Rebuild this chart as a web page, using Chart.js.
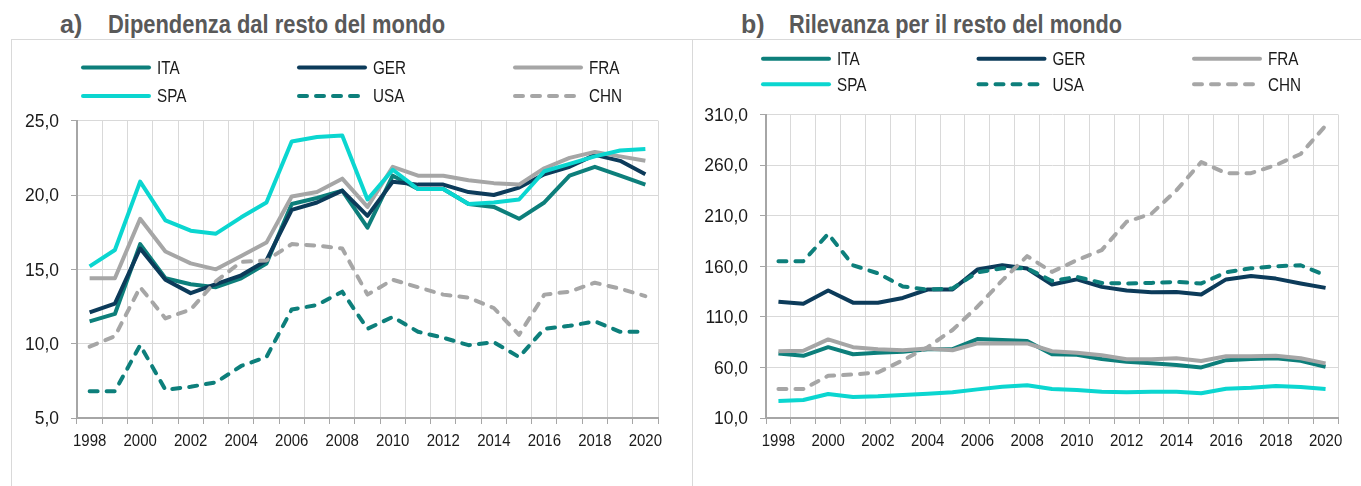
<!DOCTYPE html>
<html>
<head>
<meta charset="utf-8">
<script src="https://cdn.jsdelivr.net/npm/chart.js@4.4.1/dist/chart.umd.min.js"></script>
<style>
  html, body { margin:0; padding:0; background:#fff; }
  body { width:1361px; height:486px; position:relative; overflow:hidden; font-family:'Liberation Sans',Arial,sans-serif; }
  .title { position:absolute; top:12px; font-weight:bold; font-size:25px; line-height:25px; color:#595959; white-space:nowrap; transform-origin:0 0; }
  .panel { position:absolute; top:39px; height:460px; border-top:1px solid #d9d9d9; border-left:1px solid #d9d9d9; }
  canvas { position:absolute; }
</style>
</head>
<body>
<div class="title" style="left:60px" data-w="20">a)</div>
<div class="title" style="left:108px" data-w="337">Dipendenza dal resto del mondo</div>
<div class="title" style="left:741px" data-w="20">b)</div>
<div class="title" style="left:789px" data-w="333">Rilevanza per il resto del mondo</div>
<div class="panel" style="left:11px;width:680px"></div>
<div class="panel" style="left:692px;width:680px"></div>
<div style="position:absolute;left:11px;top:40px;width:681px;height:446px"><canvas id="c1"></canvas></div>
<div style="position:absolute;left:693px;top:40px;width:668px;height:446px"><canvas id="c2"></canvas></div>
<script>
const years = ['1998','1999','2000','2001','2002','2003','2004','2005','2006','2007','2008','2009','2010','2011','2012','2013','2014','2015','2016','2017','2018','2019','2020'];
const seriesNames = ['ITA','GER','FRA','SPA','USA','CHN'];

// a) Dipendenza dal resto del mondo
const dipITA = [11.5,12.0,16.7,14.4,14.0,13.8,14.4,15.4,19.4,19.8,20.3,17.8,21.3,20.4,20.4,19.4,19.2,18.4,19.5,21.3,21.9,21.3,20.7];
const dipGER = [12.1,12.7,16.4,14.3,13.4,14.0,14.6,15.6,19.0,19.5,20.3,18.6,20.9,20.7,20.7,20.2,20.0,20.5,21.4,21.9,22.7,22.3,21.4];
const dipFRA = [14.4,14.4,18.4,16.2,15.4,15.0,15.9,16.8,19.9,20.2,21.1,19.2,21.9,21.3,21.3,21.0,20.8,20.7,21.8,22.5,22.9,22.6,22.3];
const dipSPA = [15.2,16.3,20.9,18.3,17.6,17.4,18.5,19.5,23.6,23.9,24.0,19.7,21.7,20.4,20.4,19.4,19.5,19.7,21.6,22.1,22.6,23.0,23.1];
const dipUSA = [6.8,6.8,9.9,6.9,7.1,7.4,8.5,9.1,12.3,12.6,13.5,11.0,11.8,10.8,10.4,9.9,10.1,9.1,11.0,11.2,11.5,10.8,10.8];
const dipCHN = [9.8,10.5,13.8,11.7,12.3,14.2,15.5,15.6,16.7,16.6,16.4,13.3,14.3,13.8,13.3,13.1,12.4,10.6,13.3,13.5,14.1,13.7,13.2];

// b) Rilevanza per il resto del mondo
const rilITA = [73.8,71.5,80,73,74.5,75.5,78,78,88,87,86,73,72.5,68.3,65.6,64,62.3,60,67.2,68.3,69,66.5,60.6];
const rilGER = [125,123,136,124,124,128.7,137,137,156.7,161,157.7,142,147,139.6,136,134.3,134.6,132,147,150.4,147.8,143,138.6];
const rilFRA = [76,76.5,87.7,80,78,77,78.8,77,83.7,84,83.7,76,74.5,72,68,68,69,66.3,71,71,71.5,69,64];
const rilSPA = [26.8,27.8,33.7,30.7,31.4,32.7,34,35.4,38.3,41,42.3,38.6,37.6,36,35.4,36,36,34.4,39,40,41.6,40.6,38.6];
const rilUSA = [165,165,192,161,153,140,137,138,154,158,158,145.5,149.5,143.5,143,143.5,144.5,143,154,158,160,161,151];
const rilCHN = [38.6,38.6,51.7,53,55,67,80,97,120,146,170,154.4,166,176,204,212,235,263,252,252,260,271,299];

const yTicksA = [5, 25, 5];     // min, max, step
const yTicksB = [10, 310, 50];

const FONT = "'Liberation Sans',Arial,sans-serif";
const TEAL = '#0d7f7b', NAVY = '#0c3b5a', GRAY = '#a6a6a6', CYAN = '#0bd6d0';
const styles = [
  {c:TEAL, d:[]}, {c:NAVY, d:[]}, {c:GRAY, d:[]},
  {c:CYAN, d:[]}, {c:TEAL, d:[8,9]}, {c:GRAY, d:[8,9]}
];

// fit titles horizontally to the reference widths
document.querySelectorAll('.title').forEach(el => {
  const w = el.getBoundingClientRect().width;
  const target = +el.dataset.w;
  if (w > 0 && target > 25) el.style.transform = 'scaleX(' + (target / w).toFixed(4) + ')';
});

// horizontal compression factors so label widths match the reference
const mctx = document.createElement('canvas').getContext('2d');
function widthOf(text, size) { mctx.font = size + 'px ' + FONT; return mctx.measureText(text).width; }
const TXT = {
  x:   { size: 17.2, sx: Math.min(1.1, 33.3 / widthOf('1998', 17.2)) },
  y:   { size: 17.8, sx: Math.min(1.1, 34 / widthOf('25,0', 17.8)) },
  leg: { size: 17.8, sx: Math.min(1.1, 30.5 / widthOf('FRA', 17.8)) }
};

function drawText(ctx, text, x, y, align, t) {
  ctx.save();
  ctx.font = t.size + 'px ' + FONT;
  ctx.textAlign = align;
  ctx.textBaseline = 'alphabetic';
  ctx.translate(x, y);
  ctx.scale(t.sx, 1);
  ctx.fillText(text, 0, 0);
  ctx.restore();
}

const gridLegend = {
  id:'gridLegend',
  afterDraw(chart, args, opts) {
    const ctx = chart.ctx;
    ctx.save();
    chart.data.datasets.forEach((ds, i) => {
      const col = i % 3, row = Math.floor(i / 3);
      const x = opts.x + col * opts.colW, y = opts.y + row * opts.rowH;
      ctx.beginPath();
      ctx.strokeStyle = ds.borderColor;
      ctx.lineWidth = 4;
      ctx.lineCap = 'round';
      ctx.setLineDash(ds.borderDash || []);
      ctx.moveTo(x + 2, y);
      ctx.lineTo(x + 68, y);
      ctx.stroke();
      ctx.setLineDash([]);
      ctx.fillStyle = '#1a1a1a';
      drawText(ctx, ds.label, x + 76, y + 6.4, 'left', TXT.leg);
    });
    const xs = chart.scales.x, ys = chart.scales.y;
    ctx.fillStyle = '#1a1a1a';
    xs.ticks.forEach((t, i) => {
      if (i % 2 !== 0) return;
      drawText(ctx, years[i], xs.getPixelForTick(i), xs.top + 28.4, 'center', TXT.x);
    });
    ys.ticks.forEach(t => {
      drawText(ctx, t.value.toFixed(1).replace('.', ','), ys.right - 18, ys.getPixelForValue(t.value) + 6.4, 'right', TXT.y);
    });
    ctx.restore();
  }
};

function makeChart(id, data, yt, pad, yW, legendPos) {
  const datasets = data.map((vals, i) => ({
    label: seriesNames[i],
    data: vals,
    borderColor: styles[i].c,
    backgroundColor: styles[i].c,
    borderDash: styles[i].d,
    borderWidth: 4,
    borderCapStyle: styles[i].d.length ? 'round' : 'butt',
    borderJoinStyle: 'round',
    pointRadius: 0,
    tension: 0,
    order: 10 - i
  }));
  return new Chart(document.getElementById(id), {
    type: 'line',
    data: { labels: years, datasets },
    options: {
      responsive: true,
      maintainAspectRatio: false,
      animation: false,
      events: [],
      layout: { padding: pad },
      plugins: { legend: { display:false }, tooltip: { enabled:false }, gridLegend: legendPos },
      scales: {
        x: {
          offset: true,
          grid: { offset: true, color:'#d9d9d9', lineWidth:1, tickColor:'#a6a6a6', tickLength:6 },
          border: { color:'#a6a6a6', width:2 },
          ticks: { display:false, autoSkip:false, maxRotation:0, minRotation:0 },
          afterFit: s => { s.height = 68; }
        },
        y: {
          min: yt[0], max: yt[1],
          grid: { color:'#d9d9d9', lineWidth:1, tickColor:'#a6a6a6', tickLength:6 },
          border: { color:'#a6a6a6', width:2 },
          ticks: { display:false, stepSize: yt[2] },
          afterFit: s => { s.width = yW; }
        }
      }
    },
    plugins: [gridLegend]
  });
}

makeChart('c1', [dipITA, dipGER, dipFRA, dipSPA, dipUSA, dipCHN], yTicksA,
  { top:80.7, right:34, bottom:0, left:0 }, 66, { x:70, y:27.5, colW:216, rowH:28.5 });
makeChart('c2', [rilITA, rilGER, rilFRA, rilSPA, rilUSA, rilCHN], yTicksB,
  { top:74.5, right:23, bottom:0, left:0 }, 73, { x:68, y:18.7, colW:215.5, rowH:25.6 });
</script>
</body>
</html>
